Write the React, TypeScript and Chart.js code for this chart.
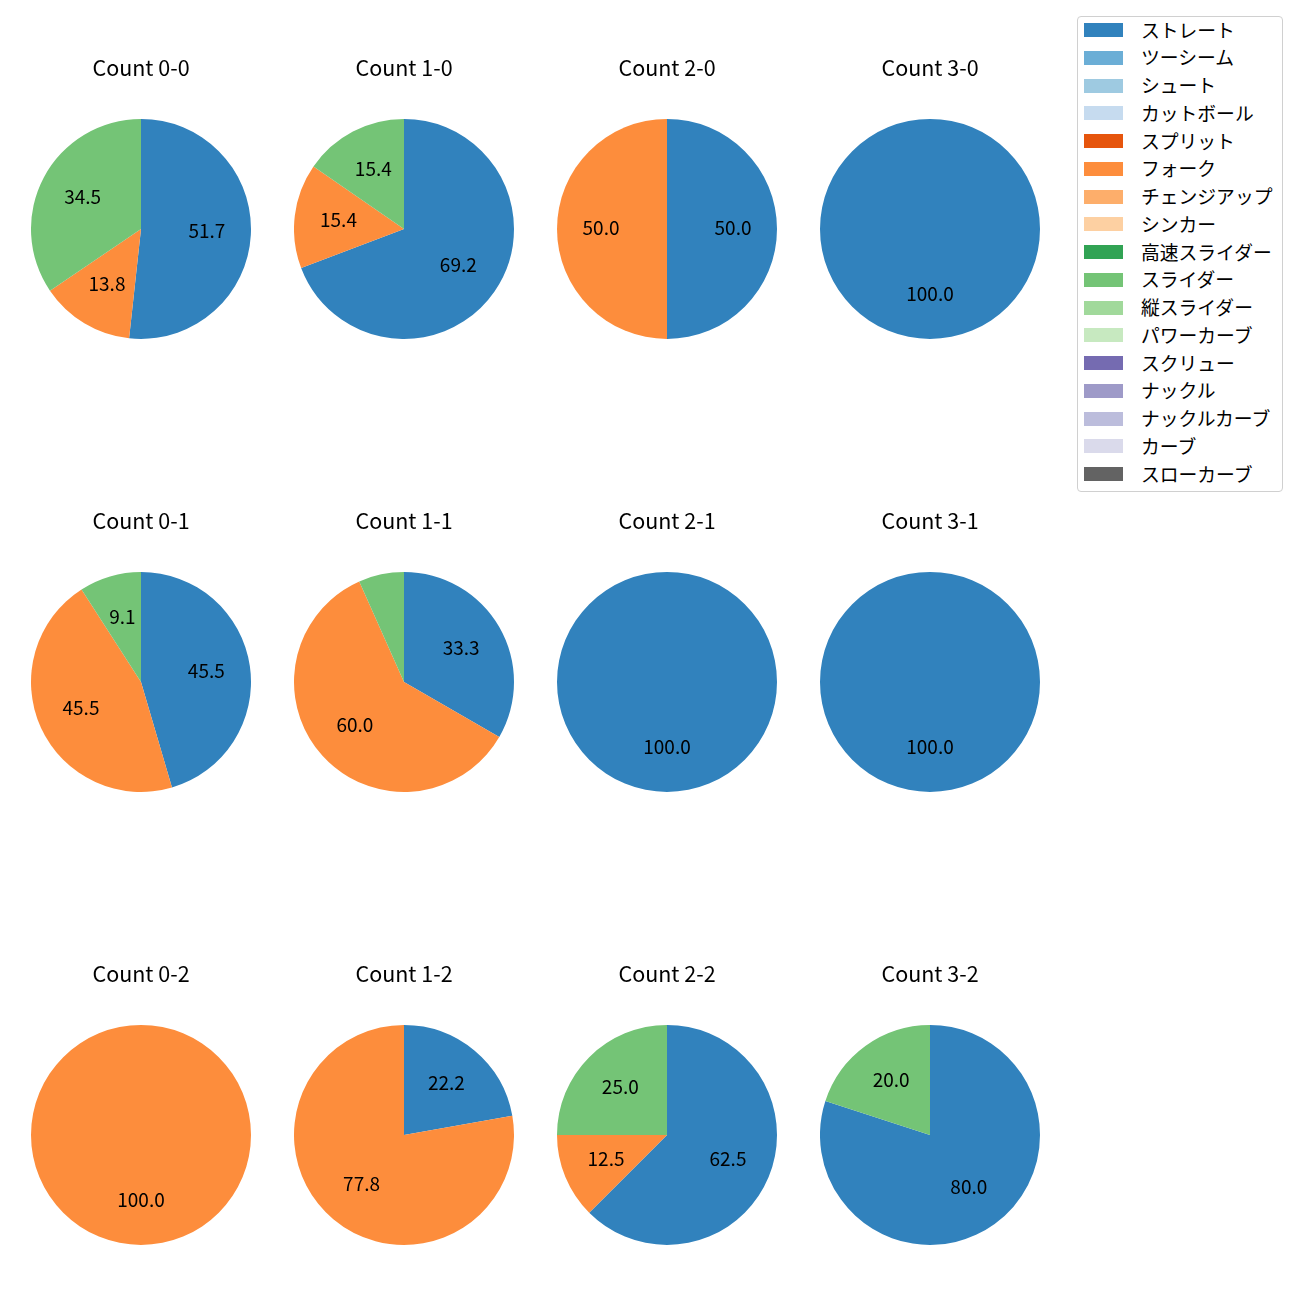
import React, { useEffect, useRef } from "react";
import { Chart, registerables } from "chart.js";

Chart.register(...registerables);

const FONT = '"Noto Sans CJK JP", "Noto Sans", sans-serif';

const pitchTypes = [
  "ストレート", "ツーシーム", "シュート", "カットボール", "スプリット", "フォーク",
  "チェンジアップ", "シンカー", "高速スライダー", "スライダー", "縦スライダー",
  "パワーカーブ", "スクリュー", "ナックル", "ナックルカーブ", "カーブ", "スローカーブ",
];
const pitchColors = [
  "#3182bd", "#6baed6", "#9ecae1", "#c6dbef", "#e6550d", "#fd8d3c",
  "#fdae6b", "#fdd0a2", "#31a354", "#74c476", "#a1d99b", "#c7e9c0",
  "#756bb1", "#9e9ac8", "#bcbddc", "#dadaeb", "#636363",
];

// Cells in reading order: row = strikes, column = balls
const countTitles = [
  "Count 0-0", "Count 1-0", "Count 2-0", "Count 3-0",
  "Count 0-1", "Count 1-1", "Count 2-1", "Count 3-1",
  "Count 0-2", "Count 1-2", "Count 2-2", "Count 3-2",
];
const straightCounts = [15, 9, 1, 2, 5, 5, 2, 3, 0, 2, 5, 4];
const forkCounts = [4, 2, 1, 0, 5, 9, 0, 0, 3, 7, 1, 0];
const sliderCounts = [10, 2, 0, 0, 1, 1, 0, 0, 0, 0, 2, 1];

const colCenters = [141, 404, 667, 930];
const rowCenters = [229, 682, 1135];
const RADIUS = 110;
const TITLE_SIZE = 21.5;
const TITLE_PAD_TOP = 10;
const TITLE_LINE = TITLE_SIZE * 1.2;
const TITLE_GAP = 51; // title centre to pie top
const TITLE_PAD_BOTTOM = TITLE_GAP - TITLE_LINE / 2;
const TITLE_BLOCK = TITLE_PAD_TOP + TITLE_LINE + TITLE_PAD_BOTTOM;
const LABEL_SIZE = 19;
const LABEL_SHIFT = -1.5;
const LEGEND_SIZE = 18.8;

function cellData(i: number): number[] {
  return pitchTypes.map((t) => {
    if (t === "ストレート") return straightCounts[i];
    if (t === "フォーク") return forkCounts[i];
    if (t === "スライダー") return sliderCounts[i];
    return 0;
  });
}

const pctPlugin = {
  id: "pctLabels",
  afterDatasetsDraw(chart: any) {
    const ctx = chart.ctx;
    const vals = chart.data.datasets[0].data as number[];
    const total = vals.reduce((a, b) => a + b, 0);
    const meta = chart.getDatasetMeta(0);
    ctx.save();
    ctx.font = `${LABEL_SIZE}px ${FONT}`;
    ctx.fillStyle = "#000000";
    ctx.textAlign = "center";
    ctx.textBaseline = "middle";
    meta.data.forEach((arc: any, i: number) => {
      const v = vals[i];
      if (!v) return;
      const pct = (v / total) * 100;
      if (pct < 8) return;
      const p = arc.getProps(["startAngle", "endAngle", "outerRadius", "x", "y"], true);
      const mid = (p.startAngle + p.endAngle) / 2;
      ctx.fillText(
        pct.toFixed(1),
        p.x + Math.cos(mid) * p.outerRadius * 0.6,
        p.y + Math.sin(mid) * p.outerRadius * 0.6 + LABEL_SHIFT
      );
    });
    ctx.restore();
  },
};

function PieCell({ index }: { index: number }) {
  const ref = useRef<HTMLCanvasElement | null>(null);
  useEffect(() => {
    if (!ref.current) return;
    const chart = new Chart(ref.current, {
      type: "pie",
      data: {
        labels: pitchTypes,
        datasets: [
          {
            data: cellData(index),
            backgroundColor: pitchColors,
            borderWidth: 0,
          },
        ],
      },
      options: {
        responsive: false,
        animation: false,
        layout: { padding: 0 },
        plugins: {
          legend: { display: false },
          tooltip: { enabled: false },
          title: {
            display: true,
            text: countTitles[index],
            color: "#000000",
            font: { family: FONT, size: TITLE_SIZE, weight: "normal", lineHeight: 1.2 },
            padding: { top: TITLE_PAD_TOP, bottom: TITLE_PAD_BOTTOM },
          },
        },
      },
      plugins: [pctPlugin],
    } as any);
    return () => chart.destroy();
  }, [index]);
  const cx = colCenters[index % 4];
  const cy = rowCenters[Math.floor(index / 4)];
  const h = Math.round(RADIUS * 2 + TITLE_BLOCK);
  return (
    <canvas
      ref={ref}
      width={RADIUS * 2}
      height={h}
      style={{
        position: "absolute",
        left: cx - RADIUS,
        top: cy + RADIUS - h,
      }}
    />
  );
}

function Legend() {
  return (
    <div
      style={{
        position: "absolute",
        left: 1077,
        top: 16,
        width: 206,
        height: 476,
        border: "1px solid #d0d0d0",
        borderRadius: 4,
        background: "rgba(255,255,255,0.8)",
        boxSizing: "border-box",
      }}
    >
      {pitchTypes.map((t, i) => {
        const cy = 13 + i * 27.75;
        return (
          <React.Fragment key={t}>
            <div
              style={{
                position: "absolute",
                left: 6,
                top: cy - 7,
                width: 39,
                height: 14,
                background: pitchColors[i],
              }}
            />
            <div
              style={{
                position: "absolute",
                left: 63,
                top: cy - 12.5,
                height: 24,
                lineHeight: "24px",
                fontSize: LEGEND_SIZE,
                fontFamily: FONT,
                color: "#000",
                whiteSpace: "nowrap",
              }}
            >
              {t}
            </div>
          </React.Fragment>
        );
      })}
    </div>
  );
}

export default function App() {
  return (
    <div
      style={{
        position: "absolute",
        left: 0,
        top: 0,
        width: 1300,
        height: 1300,
        background: "#ffffff",
      }}
    >
      {countTitles.map((_, i) => (
        <PieCell key={i} index={i} />
      ))}
      <Legend />
    </div>
  );
}
